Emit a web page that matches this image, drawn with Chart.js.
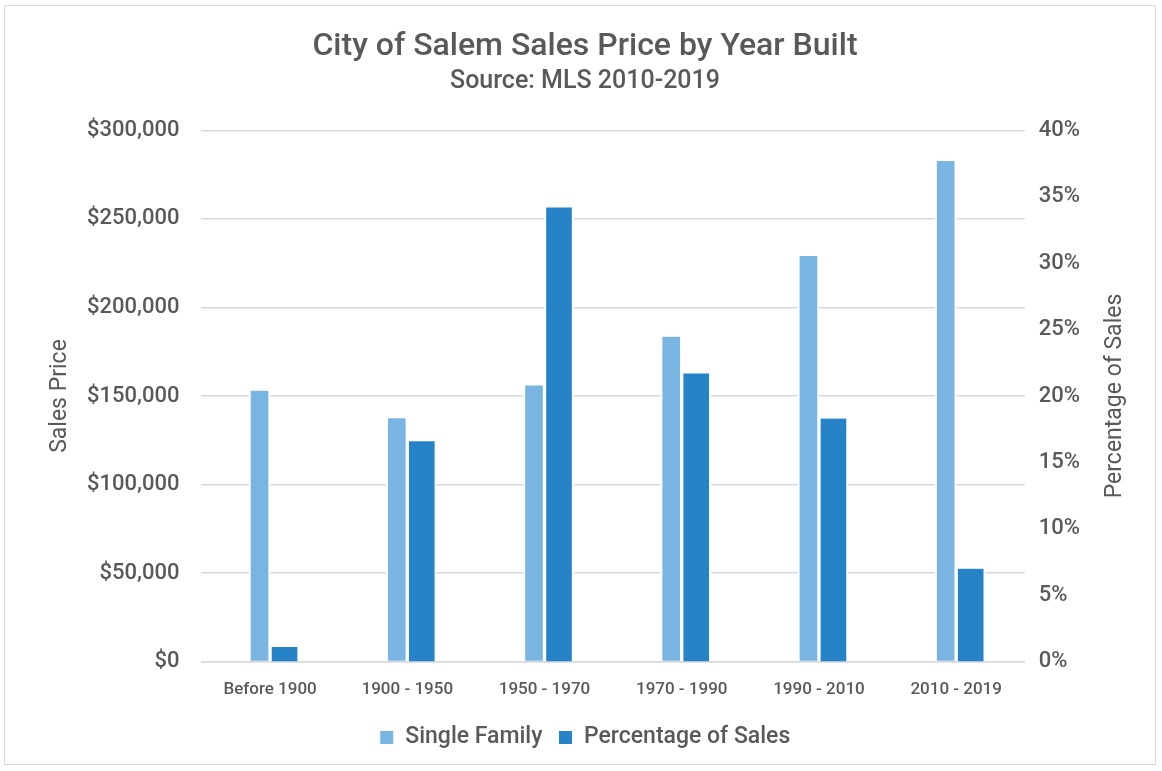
<!DOCTYPE html>
<html>
<head>
<meta charset="utf-8">
<script src="https://cdn.jsdelivr.net/npm/chart.js@4.4.1/dist/chart.umd.min.js"></script>
<style>
  html, body { margin: 0; padding: 0; background: #fff; }
  #frame {
    position: absolute; left: 4px; top: 5px; width: 1152px; height: 760px;
    border: 1px solid #d9d9d9; box-sizing: border-box;
  }
  #wrap { position: absolute; left: 0; top: 0; width: 1162px; height: 771px; }
</style>
</head>
<body>
<div id="frame"></div>
<div id="wrap"><canvas id="salemChart"></canvas></div>
<script>
  // Kategoriler ve seriler
  const yearBuilt = ['Before 1900', '1900 - 1950', '1950 - 1970', '1970 - 1990', '1990 - 2010', '2010 - 2019'];
  const singleFamily = [153000, 137500, 156000, 183500, 229000, 282700];
  const salesShare = [1.1, 16.6, 34.2, 21.7, 18.3, 7.0];

  const textColor = '#595959';
  const fontFamily = 'Roboto, "Noto Sans", sans-serif';
  const leftTitle = 'Sales Price';
  const rightTitle = 'Percentage of Sales';

  // İki eksen başlığını da aşağıdan yukarıya yaz
  const axisTitlePlugin = {
    id: 'axisTitles',
    afterDraw(chart) {
      const area = chart.chartArea;
      const midY = (area.top + area.bottom) / 2;
      const c = chart.ctx;
      const drawTitle = (text, x) => {
        c.save();
        c.translate(x, midY);
        c.rotate(-Math.PI / 2);
        c.fillStyle = textColor;
        c.font = '23px ' + fontFamily;
        c.textAlign = 'center';
        c.textBaseline = 'middle';
        c.fillText(text, 0, 0);
        c.restore();
      };
      drawTitle(leftTitle, chart.scales.y.left - 10);
      drawTitle(rightTitle, chart.scales.y1.right + 15);
    }
  };

  const ctx = document.getElementById('salemChart').getContext('2d');
  const chart = new Chart(ctx, {
    type: 'bar',
    data: {
      labels: yearBuilt,
      datasets: [{
        label: 'Single Family',
        data: singleFamily,
        yAxisID: 'y',
        backgroundColor: '#79b5e3',
        borderColor: '#ffffff',
        borderWidth: { left: 2, right: 2, top: 0, bottom: 0 },
        barThickness: 21
      },
      {
        label: 'Percentage of Sales',
        data: salesShare,
        yAxisID: 'y1',
        backgroundColor: '#2783c7',
        borderColor: '#ffffff',
        borderWidth: { left: 2, right: 2, top: 0, bottom: 0 },
        barThickness: 29
      }]
    },
    plugins: [axisTitlePlugin],
    options: {
      responsive: true,
      maintainAspectRatio: false,
      animation: false,
      layout: { padding: { left: 70, right: 62, top: 10, bottom: 12 } },
      plugins: {
        title: {
          display: true,
          text: 'City of Salem Sales Price by Year Built',
          color: textColor,
          font: { family: fontFamily, size: 32, weight: '500' },
          padding: { top: 18, bottom: 0 }
        },
        subtitle: {
          display: true,
          text: 'Source: MLS 2010-2019',
          color: textColor,
          font: { family: fontFamily, size: 25, weight: '500' },
          padding: { bottom: 34 }
        },
        legend: {
          position: 'bottom',
          labels: {
            color: textColor,
            font: { family: fontFamily, size: 23, weight: '500' },
            boxWidth: 14,
            boxHeight: 14,
            padding: 16
          }
        },
        tooltip: { mode: 'index', intersect: false }
      },
      scales: {
        x: {
          grid: { display: false },
          border: { color: '#d9d9d9', width: 1.5 },
          ticks: {
            color: textColor,
            font: { family: fontFamily, size: 17, weight: '500' },
            padding: 10
          }
        },
        y: {
          position: 'left',
          min: 0,
          max: 300000,
          afterFit: scale => { scale.width -= 5; },
          ticks: {
            stepSize: 50000,
            color: textColor,
            padding: 22,
            font: { family: fontFamily, size: 22, weight: '500' },
            callback: v => '$' + v.toLocaleString('en-US')
          },
          grid: { color: '#d9d9d9', lineWidth: 1.5, drawTicks: false },
          border: { display: false }
        },
        y1: {
          position: 'right',
          min: 0,
          max: 40,
          afterFit: scale => { scale.width += 6; },
          ticks: {
            stepSize: 5,
            color: textColor,
            padding: 14,
            font: { family: fontFamily, size: 22, weight: '500' },
            callback: v => v + '%'
          },
          grid: { display: false, drawTicks: false },
          border: { display: false }
        }
      }
    }
  });
</script>
</body>
</html>
